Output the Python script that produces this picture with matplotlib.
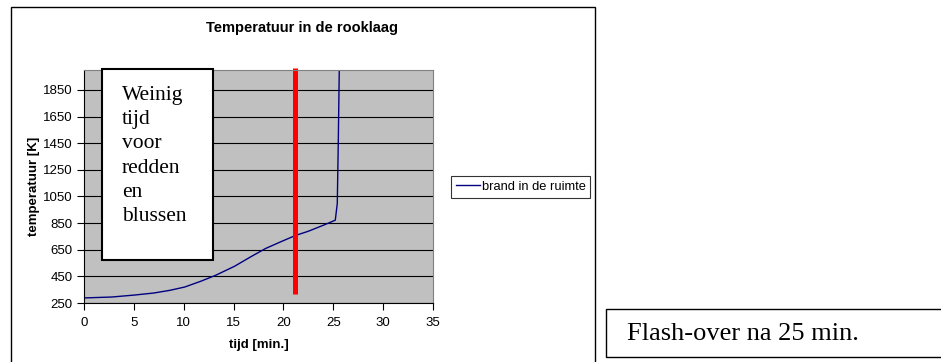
import matplotlib.pyplot as plt
from matplotlib.patches import Rectangle

# tijd [min.] en temperatuur [K]
tijd = [0, 2.8, 5.1, 7.0, 8.6, 10.1, 11.7, 13.2, 15.1, 16.7, 18.2, 19.8,
        21.2, 22.5, 24.0, 25.2, 25.4, 25.5, 25.6, 25.7]
temperatuur = [288, 295, 310, 325, 345, 370, 413, 458, 526, 596, 659, 712,
               757, 789, 834, 872, 997, 1449, 2000, 2150]

yticks = [250, 450, 650, 850, 1050, 1250, 1450, 1650, 1850]
xticks = [0, 5, 10, 15, 20, 25, 30, 35]

flashover_tijd = 21.2
flashover_temp = [320, 2015]

W, H = 941, 362
fig = plt.figure(figsize=(W / 100, H / 100), dpi=100)
plt.rcParams['font.family'] = ['Liberation Sans', 'DejaVu Sans']

# kader om de grafiek
fig.patches.append(Rectangle((11 / W, -0.05), (595 - 11) / W, 1.05 - 7 / H,
                             transform=fig.transFigure, fill=False,
                             edgecolor='black', lw=1.0))
# kader met tekst rechtsonder
fig.patches.append(Rectangle((606 / W, 1 - 357 / H), (945 - 606) / W, (357 - 309) / H,
                             transform=fig.transFigure, fill=False,
                             edgecolor='black', lw=1.0))
fig.text(627 / W, 1 - 334 / H, 'Flash-over na 25 min.', family='Liberation Serif',
         fontsize=19, va='center', ha='left')

fig.text(302 / W, 1 - 28 / H, 'Temperatuur in de rooklaag', fontsize=10.5,
         fontweight='bold', ha='center', va='center')

ax = fig.add_axes([84 / W, 1 - 303 / H, (433 - 84) / W, (303 - 70) / H])
ax.set_facecolor('#C0C0C0')
ax.plot(tijd, temperatuur, color='#000080', lw=1.0, label='brand in de ruimte')
ax.plot([flashover_tijd, flashover_tijd], flashover_temp, color='#FF0000', lw=3.6,
        clip_on=False, solid_capstyle='butt')

ax.set_xlim(0, 35)
ax.set_ylim(250, 2000)
ax.set_xticks(xticks)
ax.set_yticks(yticks)
ax.tick_params(labelsize=9.5, direction='out', length=5, width=0.8)
ax.tick_params(axis='x', pad=5)
ax.tick_params(axis='y', pad=3)
ax.yaxis.grid(True, color='black', lw=0.8)
ax.set_axisbelow(True)
for s in ['top', 'right']:
    ax.spines[s].set_color('#808080')
    ax.spines[s].set_linewidth(0.8)
for s in ['left', 'bottom']:
    ax.spines[s].set_linewidth(0.8)

ax.set_xlabel('tijd [min.]', fontsize=9.5, fontweight='bold')
ax.set_ylabel('temperatuur [K]', fontsize=9.5, fontweight='bold')
ax.xaxis.set_label_coords(0.5, -(339 - 303) / 233)
ax.yaxis.set_label_coords(-(84 - 40) / 349, 0.5)

# tekstvak in de grafiek
ax.add_patch(Rectangle((18 / 349, (303 - 260) / 233), (213 - 102) / 349, (260 - 69) / 233,
                       transform=ax.transAxes, facecolor='white', edgecolor='black',
                       lw=1.5, clip_on=False, zorder=5))
ax.text((122 - 84) / 349, (303 - 86) / 233, 'Weinig\ntijd\nvoor\nredden\nen\nblussen',
        transform=ax.transAxes, family='Liberation Serif', fontsize=15.5,
        va='top', ha='left', linespacing=1.37, zorder=6)

leg = fig.legend(loc='center left', bbox_to_anchor=(451 / W, 1 - 187 / H),
                 fontsize=9.3, frameon=True, fancybox=False, handlelength=1.9,
                 borderpad=0.35, handletextpad=0.15, borderaxespad=0)
leg.get_frame().set_edgecolor('black')
leg.get_frame().set_linewidth(0.8)

fig.savefig('out.png', dpi=100)
